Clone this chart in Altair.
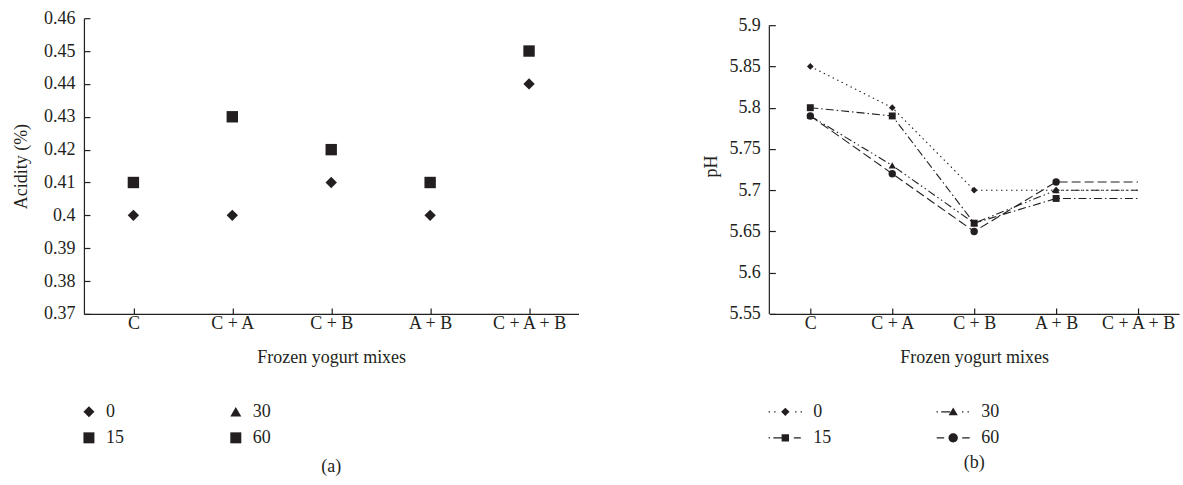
import altair as alt
import pandas as pd

INK = "#231f20"
FONT = "Liberation Serif"

# ---------------- data ----------------
mixes = ["C", "C + A", "C + B", "A + B", "C + A + B"]
legend_order = ["0", "15", "30", "60"]

# (a) acidity (%)
acid_0 = [0.40, 0.40, 0.41, 0.40, 0.44]
acid_15 = [0.41, 0.43, 0.42, 0.41, 0.45]
acid_ticks = [0.37, 0.38, 0.39, 0.40, 0.41, 0.42, 0.43, 0.44, 0.45, 0.46]

# (b) pH
ph_0 = [5.85, 5.80, 5.70, 5.70, 5.70]
ph_15 = [5.80, 5.79, 5.66, 5.69, 5.69]
ph_30 = [5.79, 5.73, 5.66, 5.70, 5.70]
ph_60 = [5.79, 5.72, 5.65, 5.71, 5.71]
ph_ticks = [5.55, 5.6, 5.65, 5.7, 5.75, 5.8, 5.85, 5.9]
ph_axis_span = [5.55, 5.9]
marked_mixes = ["C", "C + A", "C + B", "A + B"]

acid_df = pd.DataFrame(
    [{"mix": m, "t": "0", "v": v} for m, v in zip(mixes, acid_0)]
    + [{"mix": m, "t": "15", "v": v} for m, v in zip(mixes, acid_15)]
)
ph_rows = []
for t, vals in [("0", ph_0), ("15", ph_15), ("30", ph_30), ("60", ph_60)]:
    for m, v in zip(mixes, vals):
        ph_rows.append({"mix": m, "t": t, "v": v, "marked": m in marked_mixes})
ph_df = pd.DataFrame(ph_rows)

# ---------------- styles ----------------
def xaxis():
    return alt.Axis(
        title="Frozen yogurt mixes", labelAngle=0, labelPadding=7, titlePadding=16,
        domainColor=INK, domainWidth=1.2, tickColor=INK, tickWidth=1.2,
        tickSize={"expr": "-6"}, labelFont=FONT, labelFontSize=18, labelColor=INK,
        titleFont=FONT, titleFontSize=18, titleFontWeight="normal", titleColor=INK,
        grid=False,
    )

def yaxis(title, values, tpad, domain=True):
    return alt.Axis(
        title=title, values=values, format="~g", labelPadding=15, titlePadding=tpad,
        domain=domain, domainColor=INK, domainWidth=1.2, tickColor=INK, tickWidth=1.2,
        tickSize={"expr": "-6"}, labelFont=FONT, labelFontSize=18, labelColor=INK,
        titleFont=FONT, titleFontSize=18, titleFontWeight="normal", titleColor=INK,
        grid=False,
    )

xscale = alt.Scale(domain=mixes, padding=0.5)

# ---------------- panel (a) ----------------
panel_a = alt.Chart(acid_df).mark_point(filled=True, opacity=1, color=INK, size=130).encode(
    x=alt.X("mix:N", sort=mixes, scale=xscale, axis=xaxis()),
    y=alt.Y("v:Q", scale=alt.Scale(domain=[0.37, 0.46], nice=False, zero=False),
            axis=yaxis("Acidity (%)", acid_ticks, 13)),
    shape=alt.Shape(
        "t:N",
        scale=alt.Scale(domain=legend_order, range=["diamond", "square", "triangle-up", "square"]),
        legend=alt.Legend(
            title=None, orient="none", legendX=-4, legendY=385, columns=2,
            columnPadding=103, rowPadding=8, labelOffset=8, padding=0,
            symbolSize=121, symbolStrokeWidth=0, symbolFillColor=INK, symbolOpacity=1,
            labelFont=FONT, labelFontSize=18, labelColor=INK,
        ),
    ),
).properties(
    width=495, height=296,
    title=alt.TitleParams("(a)", orient="bottom", font=FONT, fontSize=18,
                          fontWeight="normal", color=INK, offset=91),
)

# ---------------- panel (b) ----------------
dash_range = [[1.5, 3.5], [8, 3, 1.5, 3], [8, 3, 1.5, 3, 1.5, 3], [9, 4]]
leg_paths = [
    # 0 : dotted with diamond
    "M-16.7,-0.7h1.4v1.4h-1.4Z M-11.2,-0.7h1.4v1.4h-1.4Z M0,-4.2L4.2,0L0,4.2L-4.2,0Z "
    "M9.8,-0.7h1.4v1.4h-1.4Z M15.3,-0.7h1.4v1.4h-1.4Z",
    # 15 : dash-dot with square
    "M-16.7,-0.6h1.4v1.2h-1.4Z M-12,-0.6H-3.5V0.6H-12Z M-3.7,-3.7H3.7V3.7H-3.7Z "
    "M8.5,-0.6H15.5V0.6H8.5Z",
    # 30 : dash-dot-dot with triangle
    "M-16.7,-0.6h1.4v1.2h-1.4Z M-12,-0.6H-3V0.6H-12Z M0,-4.4L4.6,3.3L-4.6,3.3Z "
    "M8.8,-0.6h1.4v1.2h-1.4Z M14.3,-0.6h1.4v1.2h-1.4Z",
    # 60 : dashed with circle
    "M-16.5,-0.6H-9V0.6H-16.5Z M-4.7,0A4.7,4.7,0,1,0,4.7,0A4.7,4.7,0,1,0,-4.7,0Z "
    "M9,-0.6H16.5V0.6H9Z",
]

# the pH plot starts a little lower than the acidity plot: leave headroom above 5.9
yscale_b = alt.Scale(domain=[5.55, 5.9085], nice=False, zero=False)
yaxis_b = yaxis("pH", ph_ticks, 8, domain=False)
yb = alt.Y("v:Q", scale=yscale_b, axis=yaxis_b)
xb = alt.X("mix:N", sort=mixes, scale=xscale, axis=xaxis())

lines_b = alt.Chart(ph_df).mark_line(color=INK, strokeWidth=1.1).encode(
    x=xb, y=yb,
    strokeDash=alt.StrokeDash("t:N", scale=alt.Scale(domain=legend_order, range=dash_range),
                              legend=None),
)
points_b = alt.Chart(ph_df).transform_filter("datum.marked").mark_point(
    filled=True, opacity=1, color=INK
).encode(
    x=xb, y=yb,
    shape=alt.Shape("t:N", scale=alt.Scale(domain=legend_order,
                    range=["diamond", "square", "triangle-up", "circle"]), legend=None),
    size=alt.Size("t:N", scale=alt.Scale(domain=legend_order, range=[45, 55, 60, 90]),
                  legend=None),
)
# y axis line of panel (b), from 5.55 to 5.9
axis_line_b = alt.Chart(
    pd.DataFrame({"v": [ph_axis_span[0]], "hi": [ph_axis_span[1]]})
).mark_rule(color=INK, strokeWidth=1.2).encode(
    x=alt.value(0),
    y=yb,
    y2="hi:Q",
)
# invisible layer carrying the legend with line-and-marker symbols
legend_b = alt.Chart(ph_df).mark_point(filled=True, opacity=0, color=INK, size=4).encode(
    x=xb, y=yb,
    shape=alt.Shape(
        "t:N", scale=alt.Scale(domain=legend_order, range=leg_paths),
        legend=alt.Legend(
            title=None, orient="none", legendX=7, legendY=385, columns=2,
            columnPadding=105, rowPadding=8, labelOffset=19, padding=0,
            symbolSize=4, symbolStrokeWidth=0, symbolFillColor=INK, symbolOpacity=1,
            labelFont=FONT, labelFontSize=18, labelColor=INK,
        ),
    ),
)

panel_b = alt.layer(lines_b, points_b, axis_line_b, legend_b).resolve_scale(
    shape="independent", size="independent"
).properties(
    width=410, height=296,
    title=alt.TitleParams("(b)", orient="bottom", font=FONT, fontSize=18,
                          fontWeight="normal", color=INK, offset=7),
)

chart = alt.hconcat(panel_a, panel_b, spacing=124).properties(
    padding={"left": 12, "top": 9, "right": 4, "bottom": 4},
    background="white",
).configure_view(stroke=None)

chart.save("out.html", embed_options={"renderer": "svg", "actions": False})
